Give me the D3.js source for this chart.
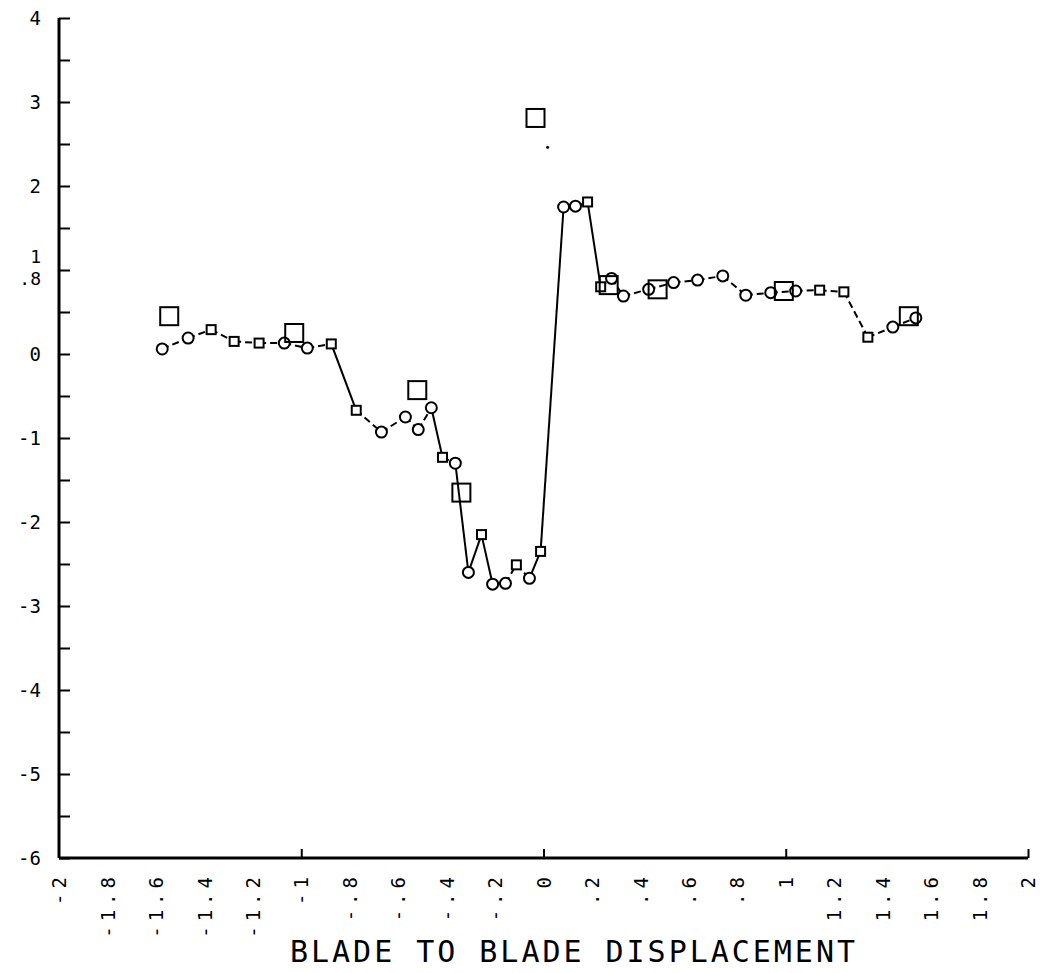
<!DOCTYPE html>
<html>
<head>
<meta charset="utf-8">
<script src="https://cdn.jsdelivr.net/npm/d3@7"></script>
<style>
  body { margin: 0; background: #fff; }
  svg { display: block; }
  text { font-family: "DejaVu Sans Mono", monospace; fill: #000; }
</style>
</head>
<body>
<svg id="chart"></svg>
<script>
const W = 1040, H = 973

// connected series: x, y, marker ("o" circle, "s" small square)
const lineX = [-1.574, -1.467, -1.372, -1.277, -1.174, -1.07, -0.975, -0.876, -0.773, -0.669,
               -0.57, -0.517, -0.463, -0.417, -0.364, -0.31, -0.256, -0.21, -0.157, -0.112,
               -0.058, -0.012, 0.083, 0.132, 0.182, 0.236, 0.281, 0.33, 0.434, 0.537,
               0.636, 0.74, 0.835, 0.938, 1.041, 1.14, 1.24, 1.339, 1.442, 1.537]
const lineY = [0.06, 0.19, 0.29, 0.15, 0.13, 0.13, 0.07, 0.12, -0.67, -0.93,
               -0.75, -0.9, -0.64, -1.23, -1.30, -2.6, -2.15, -2.74, -2.73, -2.51,
               -2.67, -2.35, 1.75, 1.76, 1.81, 0.80, 0.90, 0.69, 0.77, 0.85,
               0.88, 0.93, 0.70, 0.73, 0.75, 0.76, 0.74, 0.20, 0.32, 0.43]
const lineMark = ["o", "o", "s", "s", "s", "o", "o", "s", "s", "o",
                  "o", "o", "o", "s", "o", "o", "s", "o", "o", "s",
                  "o", "s", "o", "o", "s", "s", "o", "o", "o", "o",
                  "o", "o", "o", "o", "o", "s", "s", "s", "o", "o"]

// large unconnected squares
const bigX = [-1.545, -1.029, -0.521, -0.339, -0.033, 0.269, 0.471, 0.992, 1.508]
const bigY = [0.45, 0.25, -0.43, -1.65, 2.81, 0.82, 0.77, 0.75, 0.45]

// stray plotter dot
const dotX = [0.017]
const dotY = [2.46]

const xTicks = d3.range(-2, 2.001, 0.2).map(d => Math.round(d * 10) / 10)
const xTickLabels = ["-2", "-1.8", "-1.6", "-1.4", "-1.2", "-1", "-.8", "-.6", "-.4", "-.2",
                     "0", ".2", ".4", ".6", ".8", "1", "1.2", "1.4", "1.6", "1.8", "2"]
const yTicks = [-6, -5, -4, -3, -2, -1, 0, 1, 2, 3, 4]
const yTickLabels = ["-6", "-5", "-4", "-3", "-2", "-1", "0", "1", "2", "3", "4"]
const xTitle = "BLADE TO BLADE DISPLACEMENT"

const x = d3.scaleLinear().domain([-2, 2]).range([59, 1028])
const y = d3.scaleLinear().domain([-6, 4]).range([858, 18])

const svg = d3.select("#chart").attr("width", W).attr("height", H)

// y axis
const yAxis = svg.append("g")
    .attr("transform", "translate(" + x(-2) + ",0)")
    .call(d3.axisLeft(y)
        .tickValues(d3.range(-6, 4.001, 0.5))
        .tickSize(-11)
        .tickPadding(18)
        .tickFormat(d => {
            const i = yTicks.indexOf(d)
            return i >= 0 ? yTickLabels[i] : ""
        }))
yAxis.select(".domain").attr("stroke-width", 3).attr("d", "M0," + y(4) + "V" + y(-6))
yAxis.selectAll(".tick line").attr("stroke-width", 2)
yAxis.selectAll(".tick text")
    .attr("font-size", d => d === 1 ? 18 : 19)
    .attr("dy", d => d === 1 ? "-0.4em" : "0.35em")
    .style("font-family", '"DejaVu Sans Mono", monospace')
// extra ".8" label under the 1
yAxis.append("text")
    .attr("x", -18).attr("y", y(1) + 15)
    .attr("text-anchor", "end")
    .attr("font-size", 18)
    .text(".8")

// x axis labels
const xAxis = svg.append("g")
    .attr("transform", "translate(0," + y(-6) + ")")
    .call(d3.axisBottom(x)
        .tickValues(xTicks)
        .tickSize(0)
        .tickPadding(14)
        .tickFormat((d, i) => xTickLabels[i]))
xAxis.select(".domain").attr("stroke-width", 3).attr("d", "M" + x(-2) + ",0H" + x(2))
xAxis.selectAll(".tick text")
    .attr("transform", "rotate(-90)")
    .attr("x", -14).attr("y", 0).attr("dy", "0.35em")
    .attr("text-anchor", "end")
    .attr("font-size", 19)
    .attr("letter-spacing", 5)
    .style("font-family", '"DejaVu Sans Mono", monospace')

// x axis: integer ticks pointing up
svg.append("g")
    .attr("transform", "translate(0," + y(-6) + ")")
    .call(d3.axisBottom(x).tickValues([-1, 0, 1, 2]).tickSize(-9).tickFormat(""))
    .call(g => g.select(".domain").remove())
    .selectAll("line").attr("stroke-width", 2)

svg.append("text")
    .attr("x", 290).attr("y", 962)
    .attr("font-size", 30)
    .attr("textLength", 565)
    .attr("lengthAdjust", "spacing")
    .text(xTitle)

// connected line, dashed where shallow
const pts = lineX.map((d, i) => ({ x: d, y: lineY[i], m: lineMark[i] }))
const segs = d3.pairs(pts)
svg.append("g").selectAll("line")
    .data(segs)
    .enter().append("line")
    .attr("x1", d => x(d[0].x)).attr("y1", d => y(d[0].y))
    .attr("x2", d => x(d[1].x)).attr("y2", d => y(d[1].y))
    .attr("stroke", "#000")
    .attr("stroke-width", 2)
    .attr("stroke-dasharray", d => {
        const dx = Math.abs(x(d[1].x) - x(d[0].x)), dy = Math.abs(y(d[1].y) - y(d[0].y))
        return dy > 2 * dx ? null : "7,4"
    })

const marks = svg.append("g")
marks.selectAll("circle")
    .data(pts.filter(d => d.m === "o"))
    .enter().append("circle")
    .attr("cx", d => x(d.x)).attr("cy", d => y(d.y))
    .attr("r", 5.5)
    .attr("fill", "#fff")
    .attr("stroke", "#000")
    .attr("stroke-width", 2)

marks.selectAll("rect")
    .data(pts.filter(d => d.m === "s"))
    .enter().append("rect")
    .attr("x", d => x(d.x) - 4.5).attr("y", d => y(d.y) - 4.5)
    .attr("width", 9).attr("height", 9)
    .attr("fill", "#fff")
    .attr("stroke", "#000")
    .attr("stroke-width", 2)

svg.append("g").selectAll("rect")
    .data(bigX.map((d, i) => ({ x: d, y: bigY[i] })))
    .enter().append("rect")
    .attr("x", d => x(d.x) - 9).attr("y", d => y(d.y) - 9)
    .attr("width", 18).attr("height", 18)
    .attr("fill", "none")
    .attr("stroke", "#000")
    .attr("stroke-width", 2)

svg.append("g").selectAll("circle")
    .data(dotX.map((d, i) => ({ x: d, y: dotY[i] })))
    .enter().append("circle")
    .attr("cx", d => x(d.x)).attr("cy", d => y(d.y))
    .attr("r", 1.5)
    .attr("fill", "#000")
</script>
</body>
</html>
